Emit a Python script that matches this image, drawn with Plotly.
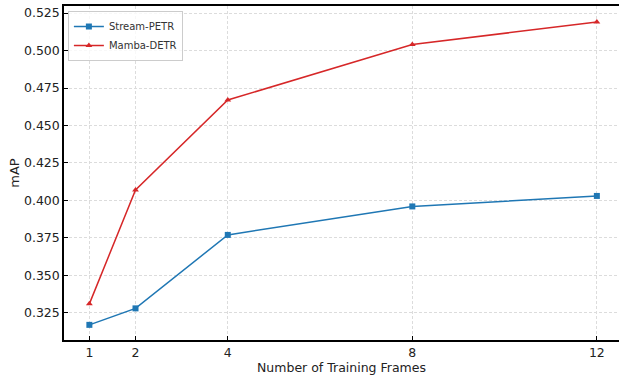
import plotly.graph_objects as go

frames = [1, 2, 4, 8, 12]
stream_petr = [0.317, 0.328, 0.377, 0.396, 0.403]
mamba_detr = [0.331, 0.407, 0.467, 0.504, 0.519]
x_ticks = [1, 2, 4, 8, 12]
y_ticks = [0.325, 0.350, 0.375, 0.400, 0.425, 0.450, 0.475, 0.500, 0.525]

fig = go.Figure()
fig.add_trace(go.Scatter(x=frames, y=stream_petr, mode="lines+markers", name="Stream-PETR",
                         line=dict(color="#1f77b4", width=1.5),
                         marker=dict(symbol="square", size=6, color="#1f77b4")))
fig.add_trace(go.Scatter(x=frames, y=mamba_detr, mode="lines+markers", name="Mamba-DETR",
                         line=dict(color="#d62728", width=1.5),
                         marker=dict(symbol="triangle-up", size=6, color="#d62728")))

font = "DejaVu Sans, sans-serif"
fig.update_layout(
    width=619, height=376,
    margin=dict(l=64, r=0, t=6, b=36, autoexpand=False),
    paper_bgcolor="white", plot_bgcolor="white",
    font=dict(family=font, size=12, color="#222"),
    showlegend=True,
    legend=dict(x=0.007, y=0.985, xanchor="left", yanchor="top",
                bgcolor="rgba(255,255,255,0.8)", bordercolor="#cccccc", borderwidth=1,
                font=dict(size=10, color="#333"), tracegroupgap=0, itemwidth=30),
)
fig.update_xaxes(
    range=[0.45, 12.48], tickvals=x_ticks, ticktext=[str(v) for v in x_ticks],
    showgrid=True, gridcolor="#dcdcdc", griddash="3px,2px", gridwidth=0.8,
    showline=True, linecolor="black", linewidth=1.5, mirror=True,
    ticks="inside", ticklen=4, tickcolor="black", zeroline=False, automargin=False,
    title=dict(text="Number of Training Frames", font=dict(size=12.5), standoff=2),
    tickfont=dict(size=12.5),
)
fig.update_yaxes(
    range=[0.3069, 0.5297], tickvals=y_ticks, ticktext=[f"{v:.3f}" for v in y_ticks],
    showgrid=True, gridcolor="#dcdcdc", griddash="3px,2px", gridwidth=0.8,
    showline=True, linecolor="black", linewidth=1.5, mirror=False,
    ticks="inside", ticklen=4, tickcolor="black", zeroline=False, automargin=False,
    title=dict(text="mAP", font=dict(size=13), standoff=1),
    tickfont=dict(size=12.5),
)
fig.write_html("out.html", config={"displayModeBar": False},
               post_script="document.body.style.margin='0';document.body.style.overflow='hidden';")
